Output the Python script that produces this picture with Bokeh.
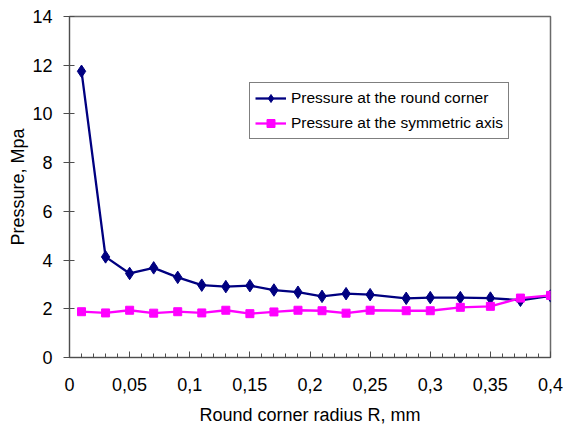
import numpy as np
from bokeh.plotting import figure
from bokeh.models import (SingleIntervalTicker, CustomJSTickFormatter, Legend, LegendItem,
                          Range1d, Title)
from bokeh.embed import file_html
from bokeh.resources import INLINE

radius = [0.01, 0.03, 0.05, 0.07, 0.09, 0.11, 0.13, 0.15, 0.17, 0.19, 0.21, 0.23, 0.25,
          0.28, 0.30, 0.325, 0.35, 0.375, 0.40]
p_corner = [11.75, 4.13, 3.45, 3.68, 3.29, 2.97, 2.91, 2.95, 2.77, 2.68, 2.51, 2.62, 2.58,
            2.43, 2.46, 2.46, 2.44, 2.35, 2.53]
p_axis = [1.88, 1.83, 1.94, 1.82, 1.88, 1.83, 1.94, 1.80, 1.87, 1.94, 1.92, 1.82, 1.94,
          1.92, 1.92, 2.06, 2.10, 2.44, 2.55]
name_corner = "Pressure at the round corner"
name_axis = "Pressure at the symmetric axis"
x_title = "Round corner radius R, mm"
y_title = "Pressure, Mpa"

FONT = "Liberation Sans"

p = figure(width=563, height=428, output_backend="svg", toolbar_location=None,
           x_range=Range1d(0, 0.4), y_range=Range1d(0, 14),
           min_border_left=69, min_border_right=13, min_border_top=16, min_border_bottom=71)
p.background_fill_color = "white"
p.border_fill_color = "white"
p.outline_line_color = "#6a6a6a"
p.outline_line_width = 1.5
p.xgrid.visible = False
p.ygrid.visible = False

# x axis
xa = p.xaxis[0]
xa.ticker = SingleIntervalTicker(interval=0.05, num_minor_ticks=5)
xa.formatter = CustomJSTickFormatter(code="""
    var s = tick.toFixed(2).replace(/0+$/, '').replace(/\\.$/, '');
    return s.replace('.', ',');
""")
xa.major_tick_in = 6
xa.major_tick_out = 0
xa.minor_tick_in = 4
xa.minor_tick_out = 0
xa.axis_line_color = "#4d4d4d"
xa.major_tick_line_color = "#4d4d4d"
xa.minor_tick_line_color = "#4d4d4d"
xa.major_label_text_font = FONT
xa.major_label_text_font_size = "18px"
xa.major_label_text_color = "black"
xa.major_label_standoff = 20
xa.axis_label = x_title
xa.axis_label_text_font = FONT
xa.axis_label_text_font_size = "18px"
xa.axis_label_text_font_style = "normal"
xa.axis_label_text_color = "black"
xa.axis_label_standoff = 11

# y axis
ya = p.yaxis[0]
ya.ticker = SingleIntervalTicker(interval=2, num_minor_ticks=0)
ya.major_tick_in = 5
ya.major_tick_out = 6
ya.minor_tick_line_color = None
ya.axis_line_color = "#4d4d4d"
ya.major_tick_line_color = "#4d4d4d"
ya.major_label_text_font = FONT
ya.major_label_text_font_size = "18px"
ya.major_label_text_color = "black"
ya.major_label_standoff = 11

ytitle = Title(text=y_title, align="center", offset=-14, standoff=4,
               text_font=FONT, text_font_size="18px", text_font_style="normal",
               text_color="black")
p.add_layout(ytitle, "left")

navy = "#000080"
mag = "#FF00FF"
l1 = p.line(radius, p_corner, line_color=navy, line_width=2.3)
s1 = p.scatter(radius, p_corner, marker="diamond", size=12.5,
               fill_color=navy, line_color=navy)
l2 = p.line(radius, p_axis, line_color=mag, line_width=2.3)
s2 = p.scatter(radius, p_axis, marker="square", size=8, fill_color=mag, line_color=mag)

legend = Legend(items=[LegendItem(label=name_corner, renderers=[l1, s1]),
                       LegendItem(label=name_axis, renderers=[l2, s2])],
                location=(180, 218))
legend.label_text_font = FONT
legend.label_text_font_size = "15.5px"
legend.label_text_color = "black"
legend.padding = 5
legend.spacing = 5
legend.margin = 0
legend.label_height = 20
legend.glyph_height = 20
legend.glyph_width = 31
legend.label_standoff = 5
legend.border_line_color = "black"
legend.border_line_width = 1
legend.background_fill_color = "white"
legend.background_fill_alpha = 1
p.add_layout(legend)

open("out.html", "w").write(file_html(p, INLINE))
